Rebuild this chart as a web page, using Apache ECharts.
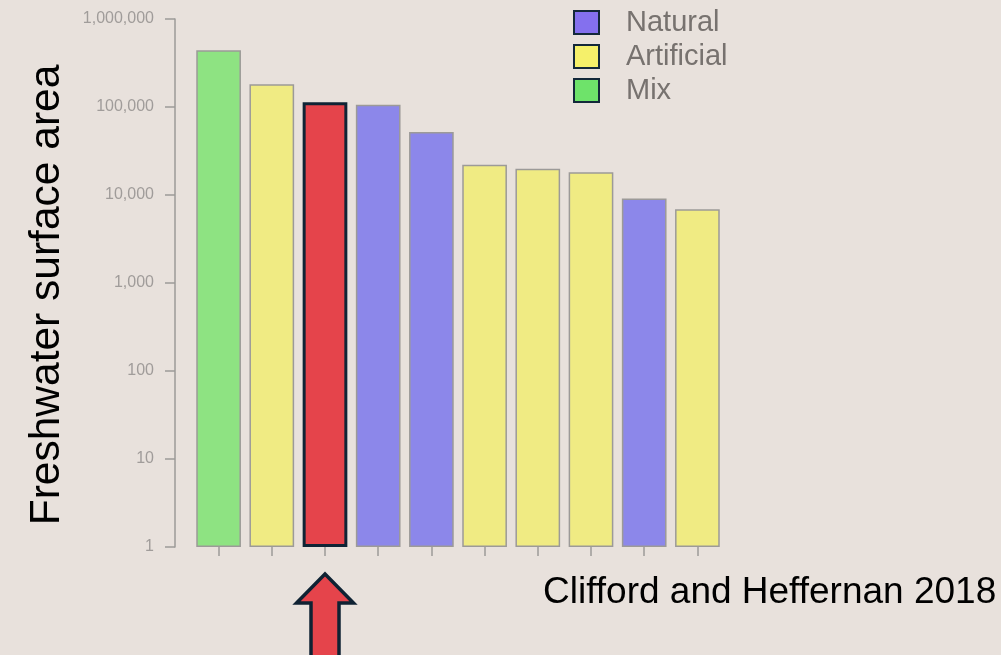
<!DOCTYPE html>
<html>
<head>
<meta charset="utf-8">
<script src="https://cdn.jsdelivr.net/npm/echarts@6/dist/echarts.min.js"></script>
<style>
  html, body { margin: 0; padding: 0; background: #e8e1dc; }
  #main { width: 1001px; height: 655px; }
</style>
</head>
<body>
<div id="main"></div>
<script>
// ecosystem bars, largest to smallest (log scale)
var categories = ['E1', 'E2', 'E3', 'E4', 'E5', 'E6', 'E7', 'E8', 'E9', 'E10'];
var areas = [441000, 181000, 113000, 106000, 52000, 22100, 19900, 18100, 9100, 6900];
var types = ['Mix', 'Artificial', 'Artificial', 'Natural', 'Natural', 'Artificial', 'Artificial', 'Artificial', 'Natural', 'Artificial'];
var highlightIndex = 2;
var typeNames = ['Natural', 'Artificial', 'Mix'];
var yTicks = [1, 10, 100, 1000, 10000, 100000, 1000000];

var barColors = { Natural: '#8c87ea', Artificial: '#f0eb83', Mix: '#8ee382' };
var legendColors = { Natural: '#8470ee', Artificial: '#f5f06a', Mix: '#6ee36a' };
var font = 'Liberation Sans, Arial, sans-serif';

function seriesFor(name) {
    return {
        name: name,
        type: 'bar',
        barWidth: '84%',
        barGap: '-100%',
        itemStyle: { color: barColors[name], borderColor: '#9c9a98', borderWidth: 1.5 },
        data: areas.map(function (v, i) {
            return (types[i] === name && i !== highlightIndex) ? v : '-';
        })
    };
}

var series = typeNames.map(seriesFor);
series.push({
    name: 'Highlight',
    type: 'bar',
    barWidth: '84%',
    barGap: '-100%',
    itemStyle: { color: '#e5444b', borderColor: '#0f2435', borderWidth: 3 },
    data: areas.map(function (v, i) { return i === highlightIndex ? v : '-'; })
});

var myChart = echarts.init(document.getElementById('main'));
var option = {
    backgroundColor: '#e8e1dc',
    animation: false,
    textStyle: { fontFamily: font },
    grid: { left: 192, width: 532, top: 19, bottom: 108 },
    legend: {
        orient: 'vertical',
        left: 568,
        top: 3,
        itemWidth: 25,
        itemHeight: 23,
        itemGap: 5,
        icon: 'rect',
        textStyle: { fontSize: 29, color: '#77726f', fontFamily: font, padding: [0, 0, 0, 22] },
        data: typeNames.map(function (n) {
            return { name: n, itemStyle: { color: legendColors[n], borderColor: '#13283a', borderWidth: 2 } };
        })
    },
    xAxis: {
        type: 'category',
        data: categories,
        axisLine: { show: false },
        axisTick: { show: true, alignWithLabel: true, length: 9, lineStyle: { color: '#9c9a98', width: 1.5 } },
        axisLabel: { show: false }
    },
    yAxis: {
        type: 'log',
        logBase: 10,
        min: yTicks[0],
        max: yTicks[yTicks.length - 1],
        offset: 17,
        name: 'Freshwater surface area',
        nameLocation: 'middle',
        nameGap: 106,
        nameTextStyle: { fontSize: 42.5, color: '#000', fontFamily: font, padding: [0, 24, 0, 0] },
        splitLine: { show: false },
        axisLine: { show: true, lineStyle: { color: '#9c9a98', width: 1.5 } },
        axisTick: { show: true, length: 10, lineStyle: { color: '#9c9a98', width: 1.5 } },
        axisLabel: {
            margin: 21,
            fontSize: 16,
            color: '#a09c9a',
            formatter: function (v) { return Math.round(v).toLocaleString('en-US'); }
        }
    },
    series: series
};
myChart.setOption(option);

// arrow under the highlighted bar, plus the citation
var cx = myChart.convertToPixel({ xAxisIndex: 0 }, categories[highlightIndex]);
myChart.setOption({
    graphic: [
        {
            type: 'polygon',
            shape: {
                points: [
                    [cx, 574], [cx + 28.5, 603], [cx + 14, 603], [cx + 14, 665],
                    [cx - 14, 665], [cx - 14, 603], [cx - 28.5, 603]
                ]
            },
            style: { fill: '#e5444b', stroke: '#0f2233', lineWidth: 3.5 }
        },
        {
            type: 'text',
            left: 543,
            top: 574,
            style: { text: 'Clifford and Heffernan 2018', font: '37px Liberation Sans, Arial, sans-serif', fill: '#000' }
        }
    ]
});
</script>
</body>
</html>
